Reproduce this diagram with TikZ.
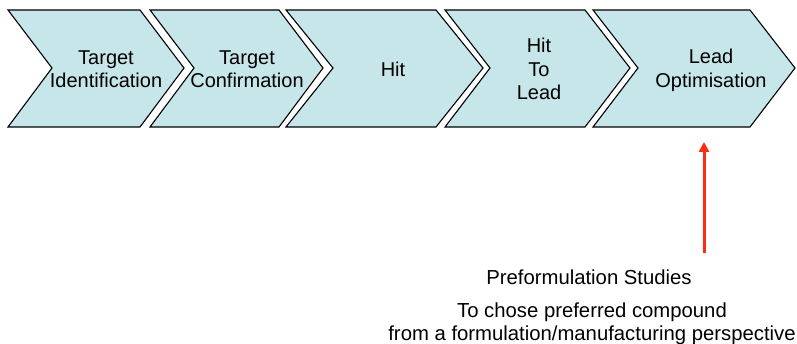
\documentclass[tikz,border=0pt]{standalone}
\usepackage{fontspec}
\setmainfont{Liberation Sans}
\usetikzlibrary{arrows.meta}
\definecolor{chevfill}{HTML}{C6E6EA}
\definecolor{arrred}{HTML}{FF2A10}
\tikzset{
  chev/.style={draw=black, line width=1.1pt, fill=chevfill, line join=miter},
  lbl/.style={align=center, font=\fontsize{20}{23.5}\selectfont, inner sep=0pt},
  note/.style={align=center, font=\fontsize{20.3}{23.5}\selectfont, inner sep=0pt},
  redarrow/.style={draw=arrred, line width=3pt, -{Triangle[length=10pt,width=10pt]}}
}
\begin{document}
\begin{tikzpicture}[x=1pt,y=-1pt]
\useasboundingbox (0,0) rectangle (797,344);
% chevrons: left-top x, notch depth, right-top x
\newcommand{\chevshape}[3]{%
  \path[chev] (#1,10) -- (#3,10) -- (#3+#2,68) -- (#3,127) -- (#1,127) -- (#1+#2,68) -- cycle;}
\chevshape{8}{44}{140}
\chevshape{150}{44}{279}
\chevshape{286}{47}{436}
\chevshape{445}{45}{585}
\chevshape{593}{45}{750}
\node[lbl] (c1) at (106,69) {Target\\Identification};
\node[lbl] (c2) at (247,69) {Target\\Confirmation};
\node[lbl] (c3) at (393,69) {Hit};
\node[lbl] (c4) at (539,69) {Hit\\To\\Lead};
\node[lbl] (c5) at (711,70.5) {Lead\\Optimisation};
\node[note] (n1) at (589,277) {Preformulation Studies};
\node[note] (n2) at (592,324) {To chose preferred compound\\from a formulation/manufacturing perspective};
\coordinate (abot) at (704,253);
\coordinate (atop) at (704,142);
\draw[redarrow] (abot) -- (atop);
\end{tikzpicture}
\end{document}
